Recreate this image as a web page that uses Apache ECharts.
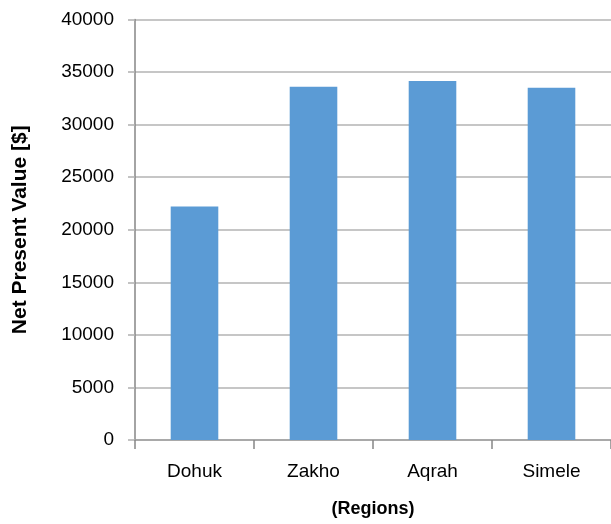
<!DOCTYPE html>
<html>
<head>
<meta charset="utf-8">
<script src="https://cdn.jsdelivr.net/npm/echarts@6/dist/echarts.min.js"></script>
<style>
html,body{margin:0;padding:0;background:#fff;overflow:hidden;}
#chart{width:611px;height:524px;}
</style>
</head>
<body>
<div id="chart"></div>
<script>
const categories = ["Dohuk", "Zakho", "Aqrah", "Simele"];
const npvValues = [22200, 33600, 34150, 33500];
const yTicks = [0, 5000, 10000, 15000, 20000, 25000, 30000, 35000, 40000];

const chart = echarts.init(document.getElementById('chart'), null, {renderer: 'canvas'});
const font = "'Liberation Sans', Arial, sans-serif";
chart.setOption({
  animation: false,
  backgroundColor: '#ffffff',
  grid: {left: 135, right: 0, top: 19.5, bottom: 84, containLabel: false, outerBoundsMode: 'none'},
  xAxis: {
    type: 'category',
    data: categories,
    name: '(Regions)',
    nameLocation: 'middle',
    nameGap: 60,
    nameTextStyle: {fontFamily: font, fontSize: 18, fontWeight: 'bold', color: '#000'},
    axisLine: {show: true, lineStyle: {color: '#a0a0a0', width: 1.5}},
    axisTick: {show: true, alignWithLabel: false, length: 9, lineStyle: {color: '#868686', width: 1.5}},
    axisLabel: {fontFamily: font, fontSize: 19, color: '#000', margin: 22},
    splitLine: {show: false}
  },
  yAxis: {
    type: 'value',
    min: yTicks[0],
    max: yTicks[yTicks.length - 1],
    interval: 5000,
    name: 'Net Present Value [$]',
    nameLocation: 'middle',
    nameGap: 104,
    nameRotate: 90,
    nameTextStyle: {fontFamily: font, fontSize: 21, fontWeight: 'bold', color: '#000'},
    axisLine: {show: true, lineStyle: {color: '#868686', width: 1.5}},
    axisTick: {show: true, length: 7, lineStyle: {color: '#b0b0b0', width: 1.5}},
    axisLabel: {fontFamily: font, fontSize: 19, color: '#000', margin: 21, formatter: v => String(v)},
    splitLine: {show: true, lineStyle: {color: '#b3b3b3', width: 1.5}}
  },
  series: [{
    type: 'bar',
    data: npvValues,
    barWidth: '40%',
    itemStyle: {color: '#5B9BD5'}
  }]
});
</script>
</body>
</html>
